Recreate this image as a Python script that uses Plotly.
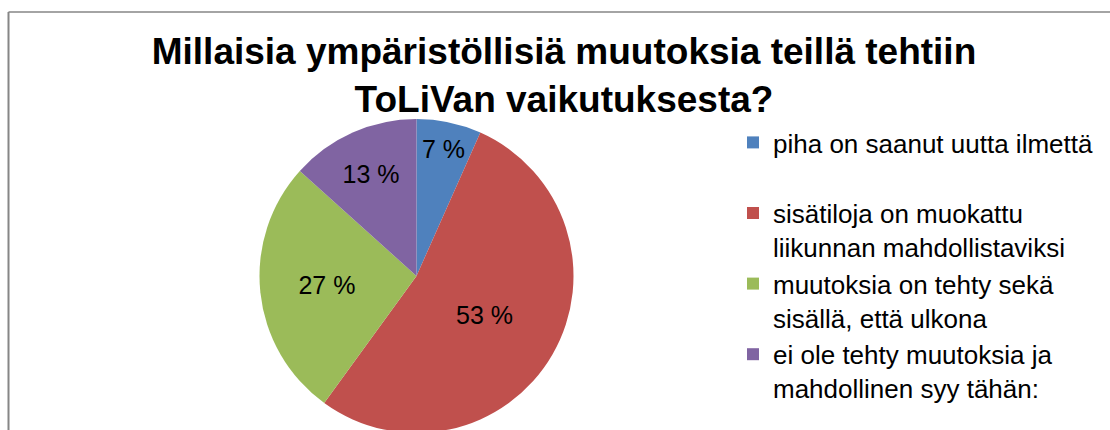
import plotly.graph_objects as go

# Data (counts read as shares of 15 responses -> 7 %, 53 %, 27 %, 13 %)
categories = [
    "piha on saanut uutta ilmettä<br> ",
    "sisätiloja on muokattu<br>liikunnan mahdollistaviksi",
    "muutoksia on tehty sekä<br>sisällä, että ulkona",
    "ei ole tehty muutoksia ja<br>mahdollinen syy tähän:",
]
values = [1, 8, 4, 2]
colors = ["#4F81BD", "#C0504D", "#9BBB59", "#8064A2"]
title_text = "Millaisia ympäristöllisiä muutoksia teillä tehtiin<br>ToLiVan vaikutuksesta?"

W, H = 1110, 440
total = sum(values)
labels_pct = [f"{round(v / total * 100)} %" for v in values]

fig = go.Figure(
    go.Pie(
        labels=categories,
        values=values,
        text=labels_pct,
        textinfo="text",
        textposition="inside",
        insidetextorientation="horizontal",
        textfont=dict(family="Liberation Sans, Arial", size=25, color="black"),
        marker=dict(colors=colors, line=dict(width=0)),
        sort=False,
        direction="clockwise",
        rotation=0,
        hoverinfo="label+percent",
        domain=dict(x=[259.5 / W, 573.5 / W], y=[(H - 433) / H, (H - 119) / H]),
    )
)

fig.update_layout(
    width=W,
    height=H,
    margin=dict(l=0, r=0, t=0, b=0),
    paper_bgcolor="white",
    plot_bgcolor="white",
    font=dict(family="Liberation Sans, Arial", color="black"),
    title=dict(
        text="<b>" + title_text + "</b>",
        x=564 / W,
        xanchor="center",
        y=1 - 64 / H,
        yanchor="top",
        font=dict(size=37, color="black", family="Liberation Sans, Arial"),
    ),
    uniformtext=dict(minsize=25, mode="show"),
    legend=dict(
        x=733 / W,
        xanchor="left",
        y=1 - 119 / H,
        yanchor="top",
        valign="top",
        font=dict(size=26, color="black", family="Liberation Sans, Arial"),
        itemclick=False,
    ),
    shapes=[
        dict(type="line", xref="paper", yref="paper",
             x0=8.5 / W, x1=8.5 / W, y0=1 - 12 / H, y1=-0.1,
             line=dict(color="#868686", width=2)),
        dict(type="line", xref="paper", yref="paper",
             x0=8.5 / W, x1=1.1, y0=1 - 12 / H, y1=1 - 12 / H,
             line=dict(color="#868686", width=1.5)),
    ],
)

fig.write_html(
    "out.html",
    config={"displayModeBar": False},
    post_script="document.body.style.margin='0';document.body.style.overflow='hidden';",
)
